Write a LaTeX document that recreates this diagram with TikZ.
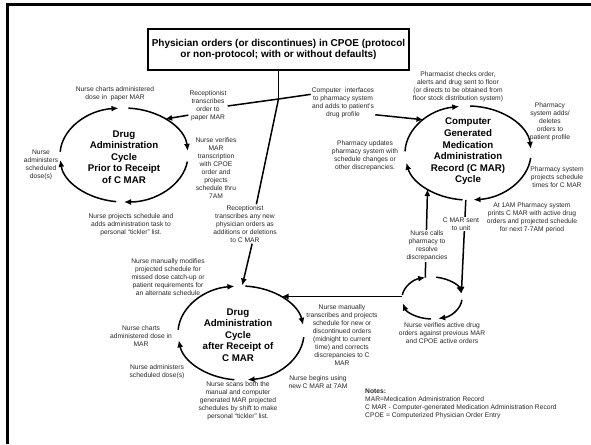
\documentclass[tikz,border=0pt]{standalone}
\usepackage{fontspec}
\setmainfont{Liberation Sans}
\usetikzlibrary{arrows.meta,calc}
\newcommand\cycarc[5]{\draw[cyc] ([shift={(#4:#2pt and #3pt)}]#1) arc[start angle=#4,end angle=#5,x radius=#2pt,y radius=#3pt];}
\begin{document}
\begin{tikzpicture}[x=1pt,y=1pt,
  lbl/.style={align=center,font=\fontsize{6.7}{8}\selectfont,inner sep=1pt,text=black!85},
  ttl/.style={align=center,font=\fontsize{9.7}{11.6}\selectfont\bfseries,inner sep=1pt},
  cyc/.style={line width=1.5pt,-{Latex[length=7pt,width=6pt]}},
  conn/.style={line width=1.5pt,-{Latex[length=7pt,width=6pt]}},
  plain/.style={line width=1.5pt},
  cover/.style={fill=white}]
\useasboundingbox (0,0) rectangle (591,-444);
% frame
\draw[line width=3pt] (7.5,-444) -- (7.5,-4.5) -- (591,-4.5);

% centres of the cycles
\coordinate (c1) at (124,-155);
\coordinate (c2) at (468,-153);
\coordinate (c3) at (432,-298);
\coordinate (c4) at (241,-333);

% cycle 1
\cycarc{c1}{64}{47}{176}{95}
\cycarc{c1}{64}{47}{86}{5}
\cycarc{c1}{64}{47}{-8}{-90}
\cycarc{c1}{64}{47}{-97}{-174}
% cycle 2
\cycarc{c2}{63}{47}{178}{98}
\cycarc{c2}{63}{47}{88}{5}
\cycarc{c2}{63}{47}{-6}{-85}
\cycarc{c2}{63}{47}{-95}{-168}
% cycle 3
\cycarc{c3}{30}{21}{172}{103}
\cycarc{c3}{30}{21}{82}{12}
\cycarc{c3}{30}{21}{-5}{-78}
\cycarc{c3}{30}{21}{-92}{-165}
% cycle 4
\cycarc{c4}{63}{47}{176}{96}
\cycarc{c4}{63}{47}{86}{10}
\cycarc{c4}{63}{47}{-5}{-84}
\cycarc{c4}{63}{47}{-96}{-171}

% points on cycles
\coordinate (e1a) at ([shift={(50:64 and 47)}]c1);
\coordinate (e2a) at ([shift={(135:63 and 47)}]c2);
\coordinate (e2b) at ([shift={(-92:63 and 47)}]c2);
\coordinate (e2c) at ([shift={(-130:63 and 47)}]c2);
\coordinate (e3r) at ([shift={(12:30 and 21)}]c3);
\coordinate (e3t) at ([shift={(103:30 and 21)}]c3);
\coordinate (e3l) at ([shift={(176:30 and 21)}]c3);
\coordinate (e4t) at ([shift={(89:63 and 47)}]c4);
\coordinate (e4r) at ([shift={(50:63 and 47)}]c4);
\coordinate (j) at (278.5,-99);

% title box
\node[draw,line width=1.6pt,minimum width=261pt,minimum height=41pt,align=center,
      font=\fontsize{10}{11.5}\selectfont\bfseries] (phys) at (278.5,-49.5)
  {Physician orders (or discontinues) in CPOE (protocol\\or non-protocol; with or without defaults)};

% cycle titles
\node[ttl] (t1) at (124,-157) {Drug\\Administration\\Cycle\\Prior to Receipt\\of C MAR};
\node[ttl] (t2) at (468,-151.5) {Computer\\Generated\\Medication\\Administration\\Record (C MAR)\\Cycle};
\node[ttl] (t4) at (238,-335) {Drug\\Administration\\Cycle\\after Receipt of\\C MAR};

% labels
\node[lbl] (nch1) at (115,-94) {Nurse charts administered\\dose in~ paper MAR};
\node[lbl] (recep1) at (208,-106) {Receptionist\\transcribes\\order to\\paper MAR};
\node[lbl] (nverif) at (216,-168) {Nurse verifies\\MAR\\transcription\\with CPOE\\order and\\projects\\schedule thru\\7AM};
\node[lbl] (nadm1) at (41,-165) {Nurse\\administers\\scheduled\\dose(s)};
\node[lbl] (nproj) at (131,-225) {Nurse projects schedule and\\adds administration task to\\personal “tickler” list.};
\node[lbl] (recep2) at (245,-224) {Receptionist\\transcribes any new\\physician orders as\\additions or deletions\\to C MAR};
\node[lbl] (compint) at (343,-103) {Computer~ interfaces\\to pharmacy system\\and adds to patient’s\\drug profile};
\node[lbl] (pharm) at (458,-87) {Pharmacist checks order,\\alerts and drug sent to floor\\(or directs to be obtained from\\floor stock distribution system)};
\node[lbl] (padds) at (550,-122) {Pharmacy\\system adds/\\deletes\\orders to\\patient profile};
\node[lbl] (pupd) at (365,-156) {Pharmacy updates\\pharmacy system with\\schedule changes or\\other discrepancies.};
\node[lbl] (pproj) at (557,-177) {Pharmacy system\\projects schedule\\times for C MAR};
\node[lbl] (at1am) at (532,-218) {At 1AM Pharmacy system\\prints C MAR with active drug\\orders and projected schedule\\for next 7-7AM period};
\node[lbl] (nmod) at (168,-277) {Nurse manually modifies\\projected schedule for\\missed dose catch-up or\\patient requirements for\\an alternate schedule};
\node[lbl] (nch2) at (141,-336) {Nurse charts\\administered dose in\\MAR};
\node[lbl] (nadm2) at (157,-372) {Nurse administers\\scheduled dose(s)};
\node[lbl] (nscans) at (238,-401) {Nurse scans both the\\manual and computer\\generated MAR projected\\schedules by shift to make\\personal “tickler” list.};
\node[lbl] (ntrans) at (342,-335) {Nurse manually\\transcribes and projects\\schedule for new or\\discontinued orders\\(midnight to current\\time) and corrects\\discrepancies to C\\MAR};
\node[lbl] (nbegins) at (318,-382) {Nurse begins using\\new C MAR at 7AM};
\node[lbl] (nverif2) at (442,-333) {Nurse verifies active drug\\orders against previous MAR\\and CPOE active orders};
\node[lbl,align=left,anchor=north west] (notes) at (364,-388) {\textbf{Notes:}\\MAR=Medication Administration Record\\C MAR - Computer-generated Medication Administration Record\\CPOE = Computerized Physician Order Entry};

% connectors
\draw[plain] (phys.south) -- (j);
\draw[plain] (j) -- (recep1.east);
\draw[plain] (j) -- (compint.165);
\draw[plain] (j) -- (recep2.60);
\draw[conn] (recep1.205) -- (e1a);
\draw[conn] (compint.-20) -- (e2a);
\draw[conn,shorten >=0.5pt] (recep2.-70) -- (e4t);
\draw[conn] (e2b) -- (e3r);
\draw[conn] (e3t) -- (e2c);
\draw[conn] (e3l) -- (e3l -| e4r);

% labels that sit on connectors
\node[lbl,cover] (cmarsent) at (461,-224) {C MAR sent\\to unit};
\node[lbl,cover] (ncalls) at (427,-246) {Nurse calls\\pharmacy to\\resolve\\discrepancies};
\end{tikzpicture}
\end{document}
